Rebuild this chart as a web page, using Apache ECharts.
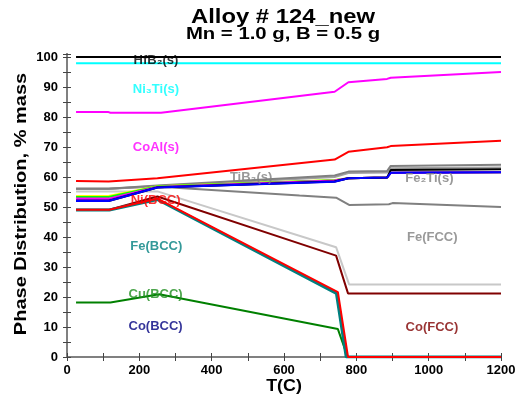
<!DOCTYPE html>
<html>
<head>
<meta charset="utf-8">
<script src="https://cdn.jsdelivr.net/npm/echarts@6/dist/echarts.min.js"></script>
<style>
  html, body { margin: 0; padding: 0; background: #fff; }
  #main { width: 528px; height: 395px; }
</style>
</head>
<body>
<div id="main"></div>
<script>
// cumulative phase boundaries, [T(C), % mass]
var hfb2Top = [[25, 100], [1200, 100]];
var ni3tiTop = [[25, 97.9], [1200, 97.9]];
var coalTop = [[25, 81.7], [113, 81.7], [120, 81.4], [260, 81.4], [740, 88.4], [778, 91.6], [885, 92.7], [895, 93.1], [1200, 95.0]];
var redTop = [[25, 58.7], [115, 58.5], [250, 59.6], [740, 65.8], [778, 68.4], [885, 69.9], [895, 70.3], [1200, 72.1]];
var grayTop = [[25, 56.1], [115, 56.1], [250, 57.2], [740, 60.5], [778, 61.8], [885, 62.0], [895, 63.7], [1200, 64.1]];
var grayMid = [[25, 56.1], [115, 56.1], [250, 57.0], [740, 60.0], [778, 61.3], [885, 61.5], [895, 62.9], [1200, 63.2]];
var blackMid = [[25, 52.0], [115, 52.0], [250, 56.5], [740, 58.5], [778, 59.6], [885, 59.8], [895, 62.3], [1200, 62.6]];
var yellowLine = [[25, 53.7], [115, 53.7], [250, 56.9], [740, 59.0], [778, 59.6], [885, 59.8], [895, 61.4], [1200, 61.6]];
var limeLine = [[25, 53.3], [115, 53.3], [250, 56.8], [740, 58.9], [778, 59.6], [885, 59.8], [895, 61.4], [1200, 61.6]];
var pinkLine = [[25, 52.8], [115, 52.8], [250, 56.7], [740, 58.8], [778, 59.6], [885, 59.8], [895, 61.4], [1200, 61.6]];
var purpleLine = [[25, 52.3], [115, 52.3], [250, 56.6], [740, 58.6], [778, 59.6], [885, 59.8], [895, 61.4], [1200, 61.6]];
var blueLine = [[25, 52.0], [115, 52.0], [250, 56.5], [740, 58.4], [778, 59.6], [885, 59.8], [895, 61.4], [1200, 61.6]];
var grayLow = [[25, 56.1], [115, 56.1], [250, 56.8], [311, 56.3], [643, 53.8], [744, 53.1], [780, 50.7], [890, 50.9], [900, 51.3], [1200, 50.0]];
var lightGray = [[25, 55.2], [115, 55.2], [250, 55.2], [744, 36.6], [780, 24.2], [1200, 24.2]];
var maroonLine = [[25, 49.1], [117, 49.1], [250, 53.5], [744, 33.8], [777, 21.2], [1200, 21.2]];
var tealLine = [[25, 49.0], [117, 49.0], [250, 52.5], [745, 21.2], [772, 0], [1200, 0]];
var redLow = [[25, 49.1], [117, 49.1], [250, 52.8], [749, 21.6], [777, 0], [1200, 0]];
var greenLine = [[25, 18.2], [120, 18.2], [255, 20.9], [749, 9.3], [776, 0], [1200, 0]];

var phaseNames = ['HfB₂(s)', 'Ni₃Ti(s)', 'CoAl(s)', 'TiB₂(s)', 'Fe₂Ti(s)', 'Ni(BCC)', 'Fe(BCC)', 'Cu(BCC)', 'Co(BCC)', 'Fe(FCC)', 'Co(FCC)'];
var phaseT = [246, 246, 246, 509, 1002, 245, 247, 245, 245, 1010, 1009];
var phaseV = [98.8, 89.2, 69.7, 60.0, 59.6, 52.3, 36.8, 21.0, 10.3, 39.9, 9.9];
var phaseColors = ['#000000', '#00ffff', '#ff00ff', '#808080', '#808080', '#ff0000', '#008080', '#1f8f1f', '#000080', '#808080', '#800000'];

var chart = echarts.init(document.getElementById('main'));

function line(data, color, width) {
  return {
    type: 'line',
    data: data,
    symbol: 'none',
    silent: true,
    animation: false,
    lineStyle: { color: color, width: width || 2 }
  };
}

var FONT = '"Liberation Sans", Arial, sans-serif';

function stretchedText(text, x, y, size, sx, rot) {
  return {
    type: 'text',
    x: x, y: y,
    rotation: rot || 0,
    scaleX: sx,
    silent: true,
    style: {
      text: text,
      font: 'bold ' + size + 'px ' + FONT,
      fill: '#000',
      align: 'center', verticalAlign: 'middle',
      textAlign: 'center', textVerticalAlign: 'middle'
    }
  };
}

var labelData = phaseNames.map(function (n, i) {
  return {
    value: [phaseT[i], phaseV[i]],
    label: { show: true, formatter: n, color: phaseColors[i], position: 'inside' }
  };
});

var tickStyle = { color: '#444' };

var option = {
  backgroundColor: '#fff',
  animation: false,
  graphic: [
    stretchedText('Alloy # 124_new', 283, 17, 20, 1.19),
    stretchedText('Mn = 1.0 g, B = 0.5 g', 283, 35, 16, 1.27),
    stretchedText('Phase Distribution, % mass', 22, 204, 16, 1.25, Math.PI / 2),
    stretchedText('T(C)', 284, 386, 17, 1.05)
  ],
  grid: { left: 67, right: 27, top: 54, bottom: 38, outerBoundsMode: 'none', containLabel: false },
  xAxis: [{
    type: 'value', min: 0, max: 1200, interval: 200,
    axisLine: { lineStyle: { color: '#808080', width: 2 } },
    axisTick: { inside: true, length: 4, lineStyle: tickStyle },
    minorTick: { show: true, splitNumber: 2, length: 4, lineStyle: tickStyle },
    axisLabel: {
      fontFamily: FONT, fontWeight: 'bold', fontSize: 13, color: '#000', margin: 7,
      formatter: function (v) { return String(v); }
    },
    splitLine: { show: false }
  }, {
    type: 'value', position: 'top', min: 0, max: 1200, interval: 200,
    axisLine: { lineStyle: { color: '#808080', width: 2 } },
    axisTick: { inside: true, length: 4, lineStyle: tickStyle },
    minorTick: { show: true, splitNumber: 2, length: 4, lineStyle: tickStyle },
    axisLabel: { show: false },
    splitLine: { show: false }
  }],
  yAxis: [{
    type: 'value', min: 0, max: 101, interval: 10,
    axisLine: { show: true, lineStyle: { color: '#808080', width: 2 } },
    axisTick: { show: true, inside: true, length: 4, lineStyle: tickStyle },
    minorTick: { show: true, splitNumber: 2, length: 4, lineStyle: tickStyle },
    axisLabel: {
      fontFamily: FONT, fontWeight: 'bold', fontSize: 13, color: '#000', margin: 9,
      showMaxLabel: false
    },
    splitLine: { show: false }
  }, {
    type: 'value', position: 'right', min: 0, max: 101, interval: 10,
    axisLine: { show: true, lineStyle: { color: '#808080', width: 2 } },
    axisTick: { show: true, inside: true, length: 4, lineStyle: tickStyle },
    minorTick: { show: true, splitNumber: 2, length: 4, lineStyle: tickStyle },
    axisLabel: { show: false },
    splitLine: { show: false }
  }],
  series: [
    line(grayLow, '#808080'),
    line(lightGray, '#c8c8c8'),
    line(grayMid, '#a0a0a0'),
    line(grayTop, '#808080'),
    line(yellowLine, '#ffff00'),
    line(limeLine, '#00ff00'),
    line(pinkLine, '#ff00ff'),
    line(purpleLine, '#8000c0'),
    line(blackMid, '#000000'),
    line(blueLine, '#0000ff'),
    line(redTop, '#ff0000'),
    line(coalTop, '#ff00ff'),
    line(ni3tiTop, '#00ffff'),
    line(hfb2Top, '#000000'),
    line(maroonLine, '#800000'),
    line(greenLine, '#008000'),
    line(tealLine, '#008080', 3),
    line(redLow, '#ff0000'),
    {
      type: 'scatter',
      symbolSize: 0,
      silent: true,
      z: 10,
      label: { fontFamily: FONT, fontWeight: 'bold', fontSize: 13 },
      data: labelData
    }
  ]
};

chart.setOption(option);
</script>
</body>
</html>
